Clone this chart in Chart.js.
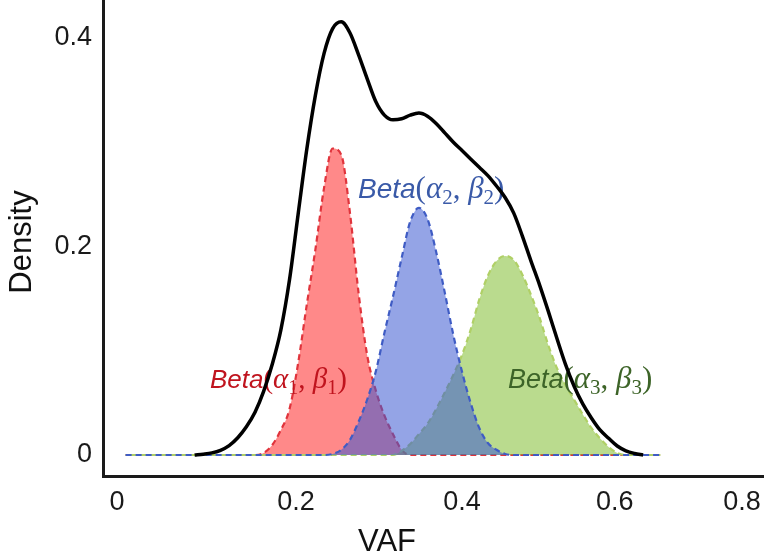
<!DOCTYPE html>
<html>
<head>
<meta charset="utf-8">
<title>VAF density</title>
<script src="https://cdn.jsdelivr.net/npm/chart.js"></script>
<style>
  html, body { margin: 0; padding: 0; background: #fff; }
  canvas { display: block; }
</style>
</head>
<body>
<canvas id="vafChart" width="764" height="560"></canvas>
<script>
// VAF grid shared by every curve (0.01 .. 0.63)
const vaf = [
  0.01, 0.02, 0.03, 0.04, 0.05, 0.06, 0.07, 0.08, 0.09, 0.10,
  0.11, 0.12, 0.13, 0.14, 0.15, 0.16, 0.17, 0.18, 0.19, 0.20,
  0.21, 0.22, 0.23, 0.24, 0.25, 0.26, 0.27, 0.28, 0.29, 0.30,
  0.31, 0.32, 0.33, 0.34, 0.35, 0.36, 0.37, 0.38, 0.39, 0.40,
  0.41, 0.42, 0.43, 0.44, 0.45, 0.46, 0.47, 0.48, 0.49, 0.50,
  0.51, 0.52, 0.53, 0.54, 0.55, 0.56, 0.57, 0.58, 0.59, 0.60,
  0.61, 0.62, 0.63
];

// overall density (black); flat ends are hidden under the component baselines
const density = [
  null, null, null, null, null, null, null, null, 0, 0.0008,
  0.002, 0.0045, 0.009, 0.0165, 0.027, 0.041, 0.061, 0.087, 0.12, 0.168,
  0.231, 0.293, 0.345, 0.385, 0.409, 0.4155, 0.405, 0.384, 0.361, 0.339,
  0.326, 0.3215, 0.3225, 0.326, 0.328, 0.325, 0.318, 0.309, 0.300, 0.292,
  0.284, 0.276, 0.268, 0.258, 0.247, 0.232, 0.210, 0.186, 0.163, 0.138,
  0.112, 0.087, 0.066, 0.049, 0.0355, 0.024, 0.016, 0.0086, 0.004, 0.0015,
  0, null, null
];

// Beta(a1, b1) component (red)
const beta1 = [
  0, 0, 0, 0, 0, 0, 0, 0, 0, 0,
  0, 0, 0, 0, 0, 0, 0.002, 0.0096, 0.024, 0.044,
  0.088, 0.144, 0.197, 0.256, 0.294, 0.288, 0.233, 0.156, 0.096, 0.062,
  0.038, 0.020, 0.005, 0, 0, 0, 0, 0, 0, 0,
  0, 0, 0, 0, 0, 0, 0, 0, 0, 0,
  0, 0, 0, 0, 0, 0, 0, 0, 0, 0,
  0, 0, 0
];

// Beta(a2, b2) component (blue)
const beta2 = [
  0, 0, 0, 0, 0, 0, 0, 0, 0, 0,
  0, 0, 0, 0, 0, 0, 0, 0, 0, 0,
  0, 0, 0, 0, 0.001, 0.005, 0.0144, 0.0317, 0.053, 0.080,
  0.117, 0.152, 0.189, 0.224, 0.237, 0.2265, 0.195, 0.156, 0.115, 0.080,
  0.050, 0.026, 0.0115, 0.005, 0.001, 0, 0, 0, 0, 0,
  0, 0, 0, 0, 0, 0, 0, 0, 0, 0,
  0, 0, 0
];

// Beta(a3, b3) component (green)
const beta3 = [
  0, 0, 0, 0, 0, 0, 0, 0, 0, 0,
  0, 0, 0, 0, 0, 0, 0, 0, 0, 0,
  0, 0, 0, 0, 0, 0, 0, 0, 0, 0,
  0, 0, 0.004, 0.0106, 0.020, 0.030, 0.044, 0.060, 0.077, 0.096,
  0.120, 0.149, 0.172, 0.186, 0.191, 0.187, 0.173, 0.1535, 0.1315, 0.1055,
  0.0835, 0.067, 0.053, 0.039, 0.026, 0.016, 0.0077, 0.002, 0, 0,
  0, 0, 0
];

// tick labels as they sit under the axis in the figure
const xTickPos = [0, 0.2075, 0.4, 0.577, 0.7246];
const xTickLabels = ['0', '0.2', '0.4', '0.6', '0.8'];
const yTicks = [0, 0.2, 0.4];
const yTickLabels = ['0', '0.2', '0.4'];

const toPoints = ys => vaf.map((x, i) => ({ x: x, y: ys[i] }));

function drawBeta(ctx, x, y, n, color, sz, msz) {
  const serif = '"Liberation Serif", serif';
  const sub = Math.round(msz * 0.68);
  const pieces = [
    ['italic ' + sz + 'px "Liberation Sans", Arial', 'Beta', 0],
    [msz + 'px ' + serif, '(', 0],
    ['italic ' + msz + 'px ' + serif, '\u03b1', 0],
    [sub + 'px ' + serif, n, 6],
    [msz + 'px ' + serif, ', ', 0],
    ['italic ' + msz + 'px ' + serif, '\u03b2', 0],
    [sub + 'px ' + serif, n, 6],
    [msz + 'px ' + serif, ')', 0]
  ];
  ctx.fillStyle = color;
  ctx.textAlign = 'left';
  ctx.textBaseline = 'alphabetic';
  let cx = x;
  for (const [font, s, dy] of pieces) {
    ctx.font = font;
    ctx.fillText(s, cx, y + dy);
    cx += ctx.measureText(s).width;
  }
}

const textPlugin = {
  id: 'vafText',
  // labels go over the fills but under the black density line
  afterDatasetDraw(chart, args) {
    if (args.index !== 1) return;
    const ctx = chart.ctx;
    const xs = chart.scales.x, ys = chart.scales.y;
    ctx.save();
    drawBeta(ctx, xs.getPixelForValue(0.1078), ys.getPixelForValue(0.0643), '1', '#c0141e', 26, 29);
    drawBeta(ctx, xs.getPixelForValue(0.2794), ys.getPixelForValue(0.2465), '2', '#3a5aa8', 28, 31);
    drawBeta(ctx, xs.getPixelForValue(0.4533), ys.getPixelForValue(0.0643), '3', '#3d6428', 27, 31);
    ctx.restore();
  },
  afterDraw(chart) {
    const ctx = chart.ctx;
    ctx.save();
    ctx.fillStyle = '#111';
    ctx.font = '31px "Liberation Sans", Arial';
    ctx.textAlign = 'center';
    ctx.textBaseline = 'middle';
    ctx.fillText('VAF', 387, 542);
    ctx.translate(22, 242);
    ctx.rotate(-Math.PI / 2);
    ctx.fillText('Density', 0, 0);
    ctx.restore();
  }
};

const dashed = {
  pointRadius: 0,
  borderWidth: 2.2,
  borderDash: [6, 4],
  fill: 'origin',
  cubicInterpolationMode: 'monotone'
};

new Chart(document.getElementById('vafChart'), {
  type: 'line',
  data: {
    datasets: [
      {
        label: 'density',
        data: toPoints(density),
        borderColor: '#000',
        borderWidth: 3.5,
        pointRadius: 0,
        fill: false,
        spanGaps: false,
        cubicInterpolationMode: 'monotone',
        order: 0
      },
      Object.assign({
        label: 'Beta2',
        data: toPoints(beta2),
        borderColor: '#3f5cc4',
        backgroundColor: 'rgba(60, 90, 210, 0.55)',
        order: 1
      }, dashed),
      Object.assign({
        label: 'Beta3',
        data: toPoints(beta3),
        borderColor: '#b0d066',
        backgroundColor: 'rgba(130, 190, 50, 0.55)',
        order: 2
      }, dashed, { borderDashOffset: 5 }),
      Object.assign({
        label: 'Beta1',
        data: toPoints(beta1),
        borderColor: '#e0343c',
        backgroundColor: 'rgba(255, 40, 40, 0.55)',
        order: 3
      }, dashed)
    ]
  },
  options: {
    responsive: false,
    animation: false,
    devicePixelRatio: 1,
    layout: { padding: 0 },
    plugins: {
      legend: { display: false },
      tooltip: { enabled: false }
    },
    scales: {
      x: {
        type: 'linear',
        min: -0.016232,
        max: 0.750145,
        grid: { display: false, drawTicks: false },
        border: { display: true, color: '#1a1a1a', width: 3 },
        ticks: {
          autoSkip: false,
          maxRotation: 0,
          padding: 10,
          color: '#1a1a1a',
          font: { family: '"Liberation Sans", Arial', size: 27 },
          callback: (v, i) => xTickLabels[i]
        },
        afterBuildTicks: axis => { axis.ticks = xTickPos.map(v => ({ value: v })); },
        afterFit: axis => {
          axis.height = 84;
          axis.paddingLeft = 0; axis.paddingRight = 0;
          axis.paddingTop = 0; axis.paddingBottom = 0;
        }
      },
      y: {
        type: 'linear',
        min: -0.020144,
        max: 0.43645,
        grid: { display: false, drawTicks: false },
        border: { display: true, color: '#1a1a1a', width: 3 },
        ticks: {
          padding: 11,
          color: '#1a1a1a',
          font: { family: '"Liberation Sans", Arial', size: 27 },
          callback: (v, i) => yTickLabels[i]
        },
        afterBuildTicks: axis => { axis.ticks = yTicks.map(v => ({ value: v })); },
        afterFit: axis => {
          axis.width = 103;
          axis.paddingLeft = 0; axis.paddingRight = 0;
          axis.paddingTop = 0; axis.paddingBottom = 0;
        }
      }
    }
  },
  plugins: [textPlugin]
});
</script>
</body>
</html>
